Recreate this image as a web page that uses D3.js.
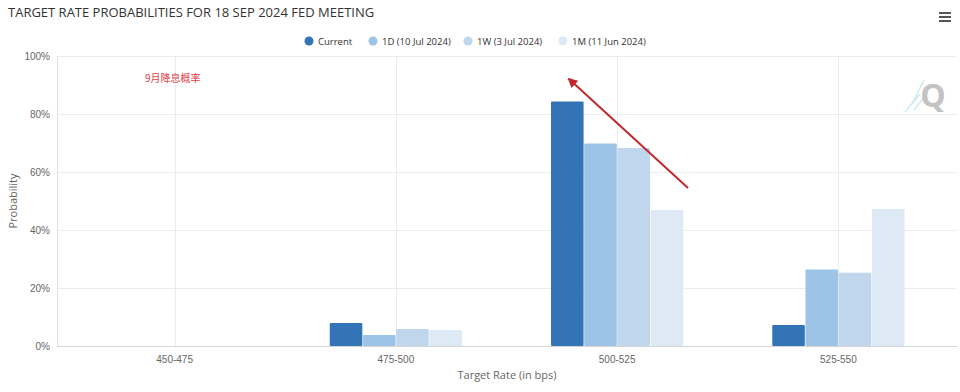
<!DOCTYPE html>
<html>
<head>
  <meta charset="UTF-8">
  <style>
    body { margin: 0; padding: 0; background: #fff; font-family: "Open Sans", "Noto Sans", Arial, sans-serif; }
    svg { display: block; }
    .tick text { fill: #666; font-size: 10px; }
  </style>
</head>
<body>
  <svg></svg>
  <script src="https://d3js.org/d3.v7.min.js"></script>
  <script>
  let width = 960, height = 392;

  // data
  const categories = ["450-475", "475-500", "500-525", "525-550"];
  const seriesNames = ["Current", "1D (10 Jul 2024)", "1W (3 Jul 2024)", "1M (11 Jun 2024)"];
  const seriesColors = ["#3274b5", "#9dc3e6", "#bfd6ec", "#dde9f5"];
  const current = [0, 7.9, 84.3, 7.2];
  const oneDay  = [0, 3.8, 69.8, 26.4];
  const oneWeek = [0, 5.9, 68.3, 25.3];
  const oneMonth = [0, 5.5, 46.9, 47.2];
  const yTicks = [0, 20, 40, 60, 80, 100];

  const series = [current, oneDay, oneWeek, oneMonth];

  const svg = d3.select("svg").attr("width", width).attr("height", height);

  const plot = { left: 57, right: 957, top: 56, bottom: 346 };

  const x = d3.scaleBand().domain(categories).range([64, 949]);
  const x1 = d3.scaleBand().domain(d3.range(4))
      .range([0, x.bandwidth()]).paddingOuter(1.34).paddingInner(0.02);
  const y = d3.scaleLinear().domain([0, 100]).range([plot.bottom, plot.top]);

  // horizontal grid
  svg.append("g")
      .selectAll("line")
      .data(yTicks)
      .enter()
      .append("line")
      .attr("x1", plot.left).attr("x2", plot.right)
      .attr("y1", d => y(d) + 0.5).attr("y2", d => y(d) + 0.5)
      .attr("stroke", d => d === 0 ? "#d4d4d4" : "#ececec");

  // vertical grid at category centres
  svg.append("g")
      .selectAll("line")
      .data(categories)
      .enter()
      .append("line")
      .attr("x1", d => Math.round(x(d) + x.bandwidth() / 2) + 0.5)
      .attr("x2", d => Math.round(x(d) + x.bandwidth() / 2) + 0.5)
      .attr("y1", plot.top).attr("y2", plot.bottom)
      .attr("stroke", "#ececec");

  svg.append("line")
      .attr("x1", plot.left + 0.5).attr("x2", plot.left + 0.5)
      .attr("y1", plot.top).attr("y2", plot.bottom)
      .attr("stroke", "#e0e0e0");

  // bars
  series.forEach((vals, si) => {
    svg.append("g")
        .selectAll("rect")
        .data(vals)
        .enter()
        .append("rect")
        .attr("x", (d, i) => x(categories[i]) + x1(si))
        .attr("width", x1.bandwidth())
        .attr("y", d => y(d))
        .attr("height", d => y(0) - y(d))
        .attr("rx", 1)
        .attr("fill", seriesColors[si]);
  });

  // y axis labels
  const yAxis = svg.append("g")
      .attr("transform", `translate(${plot.left},0)`)
      .call(d3.axisLeft(y).tickValues(yTicks).tickFormat(d => d + "%").tickSize(0).tickPadding(7));
  yAxis.select(".domain").remove();

  // x axis labels
  const xAxis = svg.append("g")
      .attr("transform", `translate(0,${plot.bottom})`)
      .call(d3.axisBottom(x).tickSize(0).tickPadding(10));
  xAxis.select(".domain").remove();

  svg.append("text")
      .attr("x", 507).attr("y", 379)
      .attr("text-anchor", "middle")
      .attr("fill", "#666").attr("font-size", "11px")
      .text("Target Rate (in bps)");

  svg.append("text")
      .attr("transform", "translate(17,201) rotate(-90)")
      .attr("text-anchor", "middle")
      .attr("fill", "#666").attr("font-size", "11px")
      .text("Probability");

  // title
  svg.append("text")
      .attr("x", 8).attr("y", 17)
      .attr("fill", "#333").attr("font-size", "13px")
      .text("TARGET RATE PROBABILITIES FOR 18 SEP 2024 FED MEETING");

  // legend
  const legendX = [309, 373, 468, 563];
  const legend = svg.append("g").selectAll("g")
      .data(seriesNames)
      .enter()
      .append("g")
      .attr("transform", (d, i) => `translate(${legendX[i]},41)`);
  legend.append("circle").attr("r", 4.5).attr("fill", (d, i) => seriesColors[i]);
  legend.append("text")
      .attr("x", 9).attr("y", 3.5)
      .attr("fill", "#333").attr("font-size", "9.5px")
      .text(d => d);

  // menu icon
  svg.append("g")
      .selectAll("rect")
      .data([0, 1, 2])
      .enter()
      .append("rect")
      .attr("x", 939).attr("y", d => 12 + d * 4)
      .attr("width", 12).attr("height", 2)
      .attr("fill", "#555");

  // annotation
  svg.append("text")
      .attr("x", 145).attr("y", 82)
      .attr("fill", "#e0404a").attr("font-size", "10px")
      .attr("font-family", "Noto Sans CJK SC")
      .text("9月降息概率");

  svg.append("defs").append("marker")
      .attr("id", "arrow")
      .attr("viewBox", "0 0 10 10")
      .attr("refX", 8).attr("refY", 5)
      .attr("markerWidth", 5).attr("markerHeight", 5)
      .attr("orient", "auto")
      .append("path")
      .attr("d", "M0,0 L10,5 L0,10 z")
      .attr("fill", "#c0282e");

  svg.append("line")
      .attr("x1", 688).attr("y1", 188)
      .attr("x2", 569).attr("y2", 79)
      .attr("stroke", "#c0282e").attr("stroke-width", 2)
      .attr("marker-end", "url(#arrow)");

  // watermark
  const wm = svg.append("g").attr("opacity", 0.8);
  [[912, 104, 924, 80], [905, 112, 920, 94], [914, 110, 928, 92]].forEach(l => {
    wm.append("line")
        .attr("x1", l[0]).attr("y1", l[1]).attr("x2", l[2]).attr("y2", l[3])
        .attr("stroke", "#bfe6ee").attr("stroke-width", 1.5);
  });
  wm.append("text")
      .attr("x", 933).attr("y", 107)
      .attr("text-anchor", "middle")
      .attr("fill", "#b5b5b5").attr("font-size", "32px").attr("font-weight", "bold")
      .text("Q");
  </script>
</body>
</html>
